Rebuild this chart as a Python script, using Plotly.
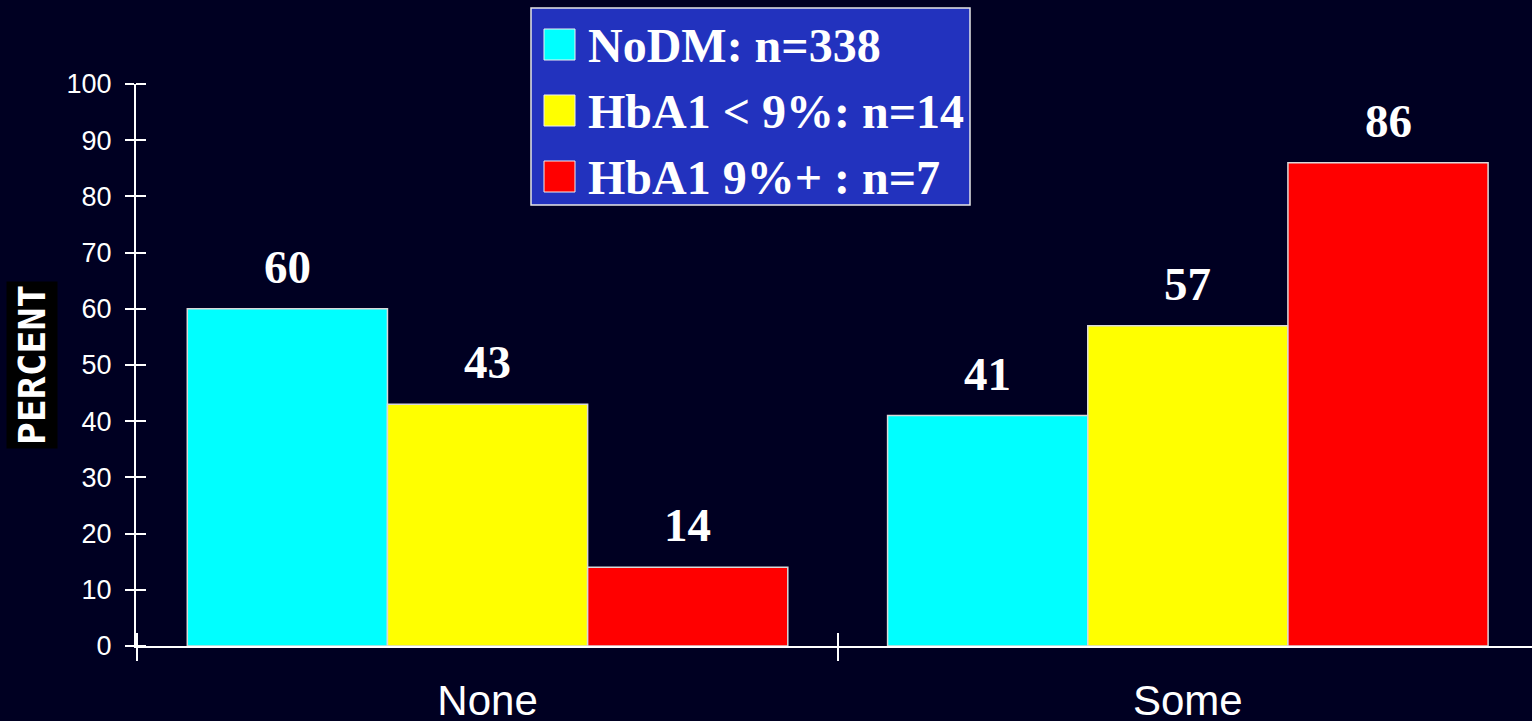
import plotly.graph_objects as go

# ---- data ----
categories = ["None", "Some"]
series_names = ["NoDM: n=338", "HbA1 < 9%: n=14", "HbA1 9%+ : n=7"]
nodm = [60, 41]
hba1_below_9 = [43, 57]
hba1_9_plus = [14, 86]
y_ticks = [0, 10, 20, 30, 40, 50, 60, 70, 80, 90, 100]

series_values = [nodm, hba1_below_9, hba1_9_plus]
colors = ["#00FFFF", "#FFFF00", "#FF0000"]

# ---- layout geometry (pixels) ----
W, H = 1532, 721
L, R, T, B = 136, 0, 84, 75
plot_w = W - L - R
plot_h = H - T - B
BG = "#000022"
X_RANGE = [-0.502, 1.5 - 6 / 702]
BARGAP = 0.1425
bar_w = (1 - BARGAP) / len(series_values)


def paper_x(px):
    return (px - L) / plot_w


def paper_y(py):
    return (H - B - py) / plot_h


fig = go.Figure()
for name, vals, col in zip(series_names, series_values, colors):
    fig.add_trace(go.Bar(
        x=categories, y=vals, name=name, showlegend=False,
        marker=dict(color=col, line=dict(color="#d9d9d9", width=1.5)),
    ))

# helper trace that carries the extra tick axes
fig.add_trace(go.Scatter(x=[], y=[], xaxis="x2", yaxis="y2", showlegend=False))

# value labels above each bar
annotations = []
n = len(series_values)
for k, vals in enumerate(series_values):
    for i, v in enumerate(vals):
        annotations.append(dict(
            x=i + (k - (n - 1) / 2) * bar_w, y=v, xref="x", yref="y",
            text=f"<b>{v}</b>", showarrow=False, xanchor="center",
            yanchor="middle", yshift=42,
            font=dict(family="Liberation Serif", size=47, color="white"),
        ))

# y axis title in a black box
annotations.append(dict(
    x=paper_x(32), y=paper_y(365), xref="paper", yref="paper",
    xanchor="center", yanchor="middle",
    text="<b>PERCENT</b>", textangle=-90, showarrow=False,
    bgcolor="black", borderpad=3,
    font=dict(family="DejaVu Sans Mono", size=38, color="white"),
))

# legend box with swatches and labels
shapes = [dict(
    type="rect", xref="paper", yref="paper",
    x0=paper_x(531), x1=paper_x(970), y0=paper_y(205), y1=paper_y(8),
    fillcolor="#2232BE", line=dict(color="#e6e6e6", width=1.5), layer="above",
)]
row_tops = [29, 95, 161]
for name, col, top in zip(series_names, colors, row_tops):
    shapes.append(dict(
        type="rect", xref="paper", yref="paper",
        x0=paper_x(544), x1=paper_x(575), y0=paper_y(top + 31), y1=paper_y(top),
        fillcolor=col, line=dict(color="#f0f0f0", width=1), layer="above",
    ))
    annotations.append(dict(
        x=paper_x(586), y=paper_y(top + 16), xref="paper", yref="paper",
        xanchor="left", yanchor="middle", text=f"<b>{name}</b>", showarrow=False,
        font=dict(family="Liberation Serif", size=48, color="white"),
    ))

fig.update_layout(
    width=W, height=H,
    margin=dict(l=L, r=R, t=T, b=B, pad=0, autoexpand=False),
    paper_bgcolor=BG, plot_bgcolor=BG,
    barmode="group", bargap=BARGAP, bargroupgap=0,
    showlegend=False,
    annotations=annotations, shapes=shapes,
    xaxis=dict(
        type="category", range=X_RANGE, tickson="boundaries", automargin=False,
        ticks="outside", ticklen=13, tickwidth=2, tickcolor="white",
        showline=True, linecolor="white", linewidth=2,
        showgrid=False, zeroline=False, ticklabelstandoff=17,
        tickfont=dict(family="Liberation Sans", size=42, color="white"),
    ),
    yaxis=dict(
        range=[0, 100], tickvals=y_ticks, automargin=False,
        ticks="outside", ticklen=9, tickwidth=2, tickcolor="white",
        showline=True, linecolor="white", linewidth=2,
        showgrid=False, zeroline=False, ticklabelstandoff=8,
        tickfont=dict(family="Liberation Sans", size=27, color="white"),
    ),
    # extra axes that extend the ticks to the inner side of the axis lines
    xaxis2=dict(
        overlaying="x", anchor="y2", range=X_RANGE, tickvals=[-0.5, 0.5],
        ticks="inside", ticklen=13, tickwidth=2, tickcolor="white", automargin=False,
        showticklabels=False, showline=False, showgrid=False, zeroline=False,
    ),
    yaxis2=dict(
        overlaying="y", anchor="free", position=paper_x(146), side="left",
        range=[0, 100], tickvals=y_ticks, automargin=False,
        ticks="outside", ticklen=10, tickwidth=2, tickcolor="white",
        showticklabels=False, showline=False, showgrid=False, zeroline=False,
    ),
)

fig.write_html("out.html")
